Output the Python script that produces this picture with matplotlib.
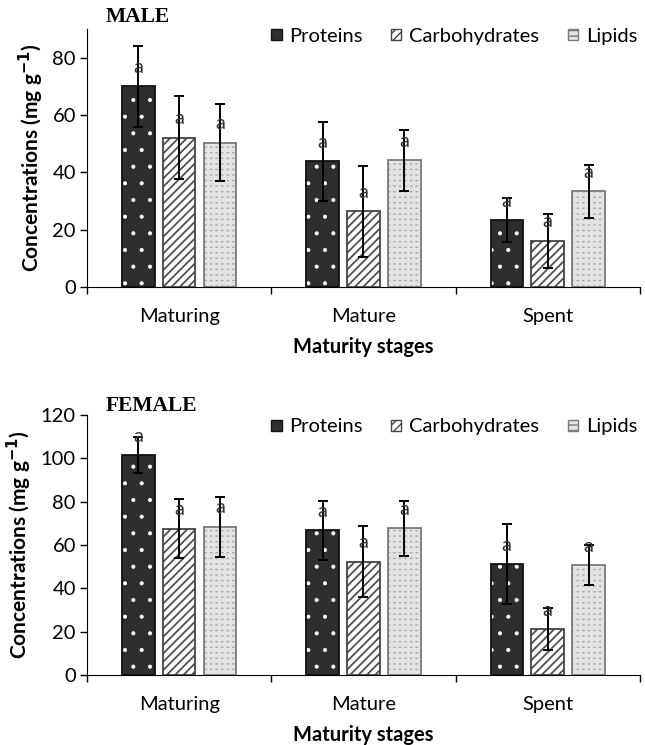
import matplotlib.pyplot as plt
from matplotlib.patches import Patch
import numpy as np

# 数据
stages = ['Maturing', 'Mature', 'Spent']
series = ['Proteins', 'Carbohydrates', 'Lipids']

male_proteins = [70.0, 43.8, 23.3]
male_carbs = [52.1, 26.3, 16.0]
male_lipids = [50.3, 44.2, 33.4]
male_proteins_err = [14.2, 13.8, 7.7]
male_carbs_err = [14.6, 16.0, 9.3]
male_lipids_err = [13.5, 10.7, 9.2]

female_proteins = [101.5, 66.8, 51.2]
female_carbs = [67.5, 52.3, 21.2]
female_lipids = [68.3, 67.8, 50.6]
female_proteins_err = [8.5, 13.6, 18.3]
female_carbs_err = [13.5, 16.5, 9.6]
female_lipids_err = [14.0, 12.7, 9.2]

sig_letters = ['a', 'a', 'a']

plt.rcParams['font.family'] = ['Lato', 'DejaVu Sans']
fs = 14.5
plt.rcParams['font.size'] = fs

bar_w = 0.176
step = 0.222

styles = [
    dict(face='#2e2e2e', hatch='.', hcolor='white', edge='#111111', hlw=0.5),
    dict(face='white', hatch='////', hcolor='#505050', edge='#444444', hlw=1.3),
    dict(face='#e3e3e3', hatch='---', hcolor='#a8a8a8', edge='#7a7a7a', hlw=1.0),
]


def draw_panel(ax, vals, errs, ymax, yticks, title, title_y, leg_y):
    x = np.arange(len(stages))
    for i, (v, e, st) in enumerate(zip(vals, errs, styles)):
        xs = x + (i - 1) * step
        with plt.rc_context({'hatch.linewidth': st['hlw']}):
            ax.bar(xs, v, bar_w, color=st['face'], hatch=st['hatch'],
                   edgecolor=st['hcolor'], linewidth=0, zorder=2)
        if i == 2:
            # 把横线断成短划
            with plt.rc_context({'hatch.linewidth': 2.2}):
                ax.bar(xs, v, bar_w, color='none', hatch='|||',
                       edgecolor=st['face'], linewidth=0, zorder=2.5)
        ax.bar(xs, v, bar_w, color='none', edgecolor=st['edge'],
               linewidth=1.3, zorder=3)
        ax.errorbar(xs, v, yerr=e, fmt='none', ecolor='black',
                    elinewidth=1.4, capsize=3.5, capthick=1.4, zorder=4)
        for xi, vi, li in zip(xs, v, sig_letters):
            ax.annotate(li, (xi, vi), xytext=(0, 19), textcoords='offset pixels',
                        ha='center', va='center', color='#333333', fontsize=fs,
                        zorder=5)

    ax.set_xlim(-0.5, 2.5)
    ax.set_ylim(0, ymax)
    ax.set_yticks(yticks)
    ax.set_xticks(x)
    ax.set_xticklabels(stages)
    ax.set_xticks([-0.5, 0.5, 1.5, 2.5], minor=True)
    ax.tick_params(axis='x', which='major', length=0, pad=15)
    ax.tick_params(axis='x', which='minor', length=5, direction='out', width=1)
    ax.tick_params(axis='y', length=5, direction='out', width=1, pad=3)
    ax.spines['top'].set_visible(False)
    ax.spines['right'].set_visible(False)
    ax.set_ylabel('Concentrations (mg g$^{\\mathbf{-1}}$)', fontweight='bold',
                  fontsize=15, labelpad=5)
    ax.set_xlabel('Maturity stages', fontweight='bold', fontsize=fs, labelpad=9)
    ax.text(0.033, title_y, title, transform=ax.transAxes, family='Liberation Serif',
            fontweight='bold', fontsize=15.5, va='center', ha='left')

    handles = [Patch(facecolor=st['face'], hatch=st['hatch'] if i else None,
                     edgecolor=st['edge'], linewidth=1, label=series[i])
               for i, st in enumerate(styles)]
    ax.legend(handles=handles, loc='center right', bbox_to_anchor=(0.995, leg_y),
              ncol=3, frameon=False, borderpad=0, borderaxespad=0,
              handlelength=0.5, handleheight=0.5, handletextpad=0.4,
              columnspacing=1.4, fontsize=fs)


fig = plt.figure(figsize=(6.45, 7.45), dpi=100)
ax1 = fig.add_axes([0.135, 0.615, 0.857, 0.346])
ax2 = fig.add_axes([0.135, 0.094, 0.857, 0.349])

draw_panel(ax1, [male_proteins, male_carbs, male_lipids],
           [male_proteins_err, male_carbs_err, male_lipids_err],
           90, [0, 20, 40, 60, 80], 'MALE', 1.047, 0.973)
draw_panel(ax2, [female_proteins, female_carbs, female_lipids],
           [female_proteins_err, female_carbs_err, female_lipids_err],
           120, [0, 20, 40, 60, 80, 100, 120], 'FEMALE', 1.035, 0.954)

fig.savefig('out.png', dpi=100)
